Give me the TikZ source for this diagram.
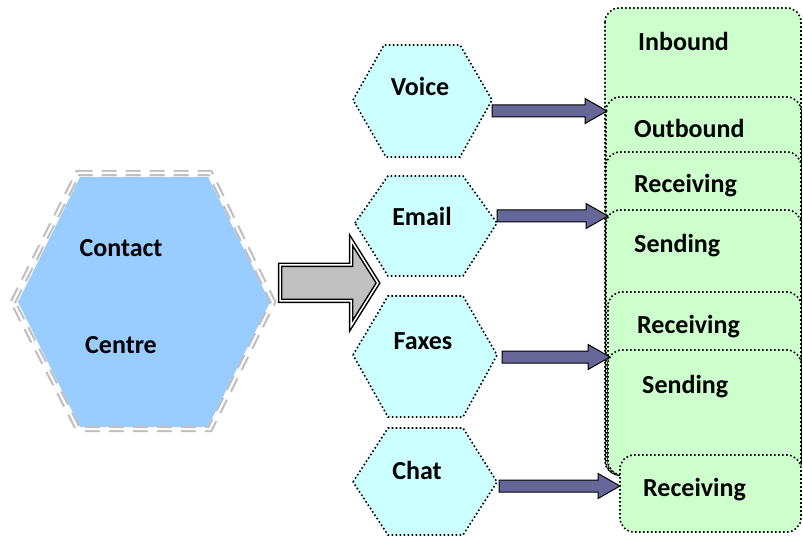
\documentclass[tikz,border=0pt]{standalone}
\usepackage{fontspec}
\setmainfont{Carlito}
\usetikzlibrary{calc}
\definecolor{hub}{HTML}{99CCFF}
\definecolor{hubedge}{HTML}{C0C0C0}
\definecolor{chan}{HTML}{CCFFFF}
\definecolor{taskgreen}{HTML}{CCFFCC}
\definecolor{flowfill}{HTML}{666699}
\definecolor{bigfill}{HTML}{C0C0C0}

% fat block arrow from #1 to the tip #2 (same height)
\newcommand\blockarrow[2]{%
  \draw[flow] ($(#1)+(0,-6)$) -- ($(#2)+(-22,-6)$) -- ($(#2)+(-22,-12.5)$) -- (#2)
    -- ($(#2)+(-22,12.5)$) -- ($(#2)+(-22,6)$) -- ($(#1)+(0,6)$) -- cycle;}

\begin{document}
\begin{tikzpicture}[x=1pt,y=-1pt,line join=miter,
  every node/.style={font=\bfseries\fontsize{26}{31}\selectfont,text=black,inner sep=0pt},
  hexlabel/.style={anchor=base},
  boxlabel/.style={anchor=base west},
  channel/.style={fill=chan,draw=black,line width=1.6pt,dash pattern=on 1.6pt off 2.4pt},
  task/.style={fill=taskgreen,draw=black,line width=1.6pt,dash pattern=on 1.6pt off 2.4pt,rounded corners=14pt},
  flow/.style={fill=flowfill,draw=black,line width=1pt}]
\path[use as bounding box] (0,0) rectangle (803,537);

% contact centre hexagon
\fill[hub] (18,302) -- (80,177) -- (208,177) -- (270,302) -- (208,427) -- (80,427) -- cycle;
\draw[hubedge,line width=2.2pt,double=white,double distance=2pt,dash pattern=on 15pt off 9pt]
  (13,302) -- (78,173) -- (210,173) -- (273,302) -- (210,429) -- (78,429) -- cycle;
\node[hexlabel] (contact) at (121,257) {Contact};
\node[hexlabel] (centre) at (121,353) {Centre};

% big arrow into the channels
\coordinate (hub-out) at (280,283);
\coordinate (chan-in) at (378,283);
\draw[fill=bigfill,draw=black,line width=1.5pt,double=white,double distance=1.5pt]
  ($(hub-out)+(0,-18)$) -- ($(chan-in)+(-27,-18)$) -- ($(chan-in)+(-27,-43)$) -- (chan-in)
  -- ($(chan-in)+(-27,43)$) -- ($(chan-in)+(-27,18)$) -- ($(hub-out)+(0,18)$) -- cycle;

% channels
\draw[channel] (353,100) -- (384,45) -- (460,45) -- (492,100) -- (460,157) -- (386,157) -- cycle;
\node[hexlabel] (voice) at (420,96) {Voice};
\draw[channel] (355,223) -- (388,176) -- (463,176) -- (497,223) -- (463,276) -- (388,276) -- cycle;
\node[hexlabel] (email) at (422,226) {Email};
\draw[channel] (353,355) -- (388,296) -- (463,296) -- (497,355) -- (463,417) -- (388,417) -- cycle;
\node[hexlabel] (faxes) at (423,349) {Faxes};
\draw[channel] (353,482) -- (388,428) -- (463,428) -- (497,482) -- (463,535) -- (388,535) -- cycle;
\node[hexlabel] (chat) at (417,479) {Chat};

% stacked task cards
\draw[task] (605,8) rectangle (801,475);
\node[boxlabel] (inbound) at (638,51) {Inbound};
\draw[task] (606,97) rectangle (801,475);
\node[boxlabel] (outbound) at (634,138) {Outbound};
\draw[task] (606,152) rectangle (801,475);
\node[boxlabel] (mail-rx) at (634,193) {Receiving};
\draw[task] (606,210) rectangle (801,475);
\node[boxlabel] (mail-tx) at (634,253) {Sending};
\draw[task] (608,292) rectangle (801,475);
\node[boxlabel] (fax-rx) at (637,334) {Receiving};
\draw[task] (608,350) rectangle (801,475);
\node[boxlabel] (fax-tx) at (642,393) {Sending};
\draw[task] (620,455) rectangle (801,532);
\node[boxlabel] (chat-rx) at (643,496) {Receiving};

% channel arrows
\coordinate (voice-r) at (492,111);
\coordinate (voice-t) at (607,111);
\coordinate (email-r) at (497,216);
\coordinate (email-t) at (608,216);
\coordinate (faxes-r) at (502,357);
\coordinate (faxes-t) at (610,357);
\coordinate (chat-r) at (499,486);
\coordinate (chat-t) at (620,486);
\blockarrow{voice-r}{voice-t}
\blockarrow{email-r}{email-t}
\blockarrow{faxes-r}{faxes-t}
\blockarrow{chat-r}{chat-t}

\end{tikzpicture}
\end{document}
